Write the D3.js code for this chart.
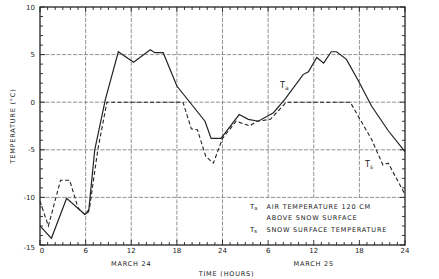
<!DOCTYPE html>
<html>
<head>
<meta charset="utf-8">
<script src="https://cdn.jsdelivr.net/npm/d3@7"></script>
<style>
  body { margin: 0; background: #fff; }
  svg text { font-family: "DejaVu Sans", sans-serif; fill: #222; }
</style>
</head>
<body>
<svg></svg>
<script>
    /* data: hours since 00h March 24, temperature in C */
    let taHours = [0, 1.5, 3.5, 5.9, 6.4, 7.2, 8.6, 10.3, 12.3, 14.5, 15.1, 16.2, 18.0, 21.7, 22.5, 23.8, 26.2, 27.4, 28.7, 30.7, 32.2, 34.6, 35.3, 36.4, 37.3, 38.3, 39.0, 40.3, 41.9, 43.6, 45.8, 48]
    let taTemps = [-13.0, -14.3, -10.1, -11.8, -11.5, -5.0, 0.3, 5.3, 4.2, 5.5, 5.2, 5.2, 1.7, -2.0, -3.8, -3.8, -1.3, -1.8, -2.0, -1.1, 0.3, 2.9, 3.2, 4.7, 4.1, 5.3, 5.3, 4.5, 2.2, -0.4, -3.0, -5.2]
    let tsHours = [0, 1.1, 2.7, 3.9, 5.0, 5.9, 6.5, 7.6, 8.8, 18.8, 19.9, 20.7, 21.8, 22.8, 24.0, 25.8, 27.6, 28.5, 30.3, 32.4, 40.8, 43.6, 45.1, 45.8, 48]
    let tsTemps = [-10.4, -13.0, -8.2, -8.2, -11.1, -11.8, -11.2, -5.0, 0, 0, -2.8, -2.9, -5.7, -6.4, -3.8, -2.0, -2.5, -2.0, -1.8, 0, 0, -3.9, -6.6, -6.4, -9.7]

    let yTicks = [10, 5, 0, -5, -10, -15]
    let xTicks = [0, 6, 12, 18, 24, 30, 36, 42, 48]
    let xTickLabels = ["0", "6", "12", "18", "24", "6", "12", "18", "24"]
    let dayLabels = ["MARCH 24", "MARCH 25"]
    let dayHours = [12, 36]
    let legendLines = ["AIR TEMPERATURE 120 CM", "ABOVE SNOW SURFACE", "SNOW SURFACE TEMPERATURE"]

    let width = 439
    let height = 279
    let padLeft = 40, padRight = 405, padTop = 7, padBottom = 245

    const svg = d3.select("svg").attr("width", width).attr("height", height)

    let xScale = d3.scaleLinear().domain([0, 48]).range([padLeft, padRight])
    let yScale = d3.scaleLinear().domain([-15, 10]).range([padBottom, padTop])

    // grid
    svg.append("g").selectAll("line").data(xTicks.slice(1, -1)).enter().append("line")
        .attr("x1", d => xScale(d)).attr("x2", d => xScale(d))
        .attr("y1", padTop).attr("y2", padBottom)
        .attr("stroke", "#777").attr("stroke-width", 0.8).attr("stroke-dasharray", "4,1.5")
    svg.append("g").selectAll("line").data(yTicks.slice(1, -1)).enter().append("line")
        .attr("x1", padLeft).attr("x2", padRight)
        .attr("y1", d => yScale(d)).attr("y2", d => yScale(d))
        .attr("stroke", "#777").attr("stroke-width", 0.8).attr("stroke-dasharray", "4,1.5")

    // legend box hides grid in the corner
    svg.append("rect").attr("x", xScale(26.5)).attr("y", yScale(-10.1))
        .attr("width", padRight - xScale(26.5) - 1).attr("height", padBottom - yScale(-10.1) - 1)
        .attr("fill", "#fff")

    // minor ticks, pointing inward
    let hourTicks = d3.range(0, 49)
    let degTicks = d3.range(-15, 11)
    let ticks = svg.append("g").attr("stroke", "#222").attr("stroke-width", 0.9)
    ticks.selectAll(".tb").data(hourTicks).enter().append("line")
        .attr("x1", d => xScale(d)).attr("x2", d => xScale(d))
        .attr("y1", padBottom).attr("y2", d => padBottom - (d % 6 == 0 ? 5 : 3))
    ticks.selectAll(".tt").data(hourTicks).enter().append("line")
        .attr("x1", d => xScale(d)).attr("x2", d => xScale(d))
        .attr("y1", padTop).attr("y2", d => padTop + (d % 6 == 0 ? 5 : 3))
    ticks.selectAll(".tl").data(degTicks).enter().append("line")
        .attr("y1", d => yScale(d)).attr("y2", d => yScale(d))
        .attr("x1", padLeft).attr("x2", d => padLeft + (d % 5 == 0 ? 5 : 3))
    ticks.selectAll(".tr").data(degTicks).enter().append("line")
        .attr("y1", d => yScale(d)).attr("y2", d => yScale(d))
        .attr("x1", padRight).attr("x2", d => padRight - (d % 5 == 0 ? 5 : 3))

    // frame
    svg.append("rect").attr("x", padLeft).attr("y", padTop)
        .attr("width", padRight - padLeft).attr("height", padBottom - padTop)
        .attr("fill", "none").attr("stroke", "#222").attr("stroke-width", 1.3)

    // curves
    let taData = taHours.map((h, i) => [h, taTemps[i]])
    let tsData = tsHours.map((h, i) => [h, tsTemps[i]])
    let line = d3.line().x(d => xScale(d[0])).y(d => yScale(d[1]))
    svg.append("path").datum(taData).attr("d", line)
        .attr("fill", "none").attr("stroke", "#222").attr("stroke-width", 1.2)
    svg.append("path").datum(tsData).attr("d", line)
        .attr("fill", "none").attr("stroke", "#222").attr("stroke-width", 1.1)
        .attr("stroke-dasharray", "4,2.5")

    // tick labels
    svg.append("g").selectAll("text").data(yTicks).enter().append("text")
        .attr("x", padLeft - 5).attr("y", d => yScale(d) + 2.5 + (d == -15 ? 2 : 0))
        .attr("text-anchor", "end").attr("font-size", 7).text(d => d)
    svg.append("g").selectAll("text").data(xTicks).enter().append("text")
        .attr("x", (d, i) => xScale(d) + (i == 0 ? 2 : 0)).attr("y", padBottom + 8)
        .attr("text-anchor", "middle").attr("font-size", 7).text((d, i) => xTickLabels[i])
    svg.append("g").selectAll("text").data(dayLabels).enter().append("text")
        .attr("x", (d, i) => xScale(dayHours[i])).attr("y", padBottom + 21)
        .attr("text-anchor", "middle").attr("font-size", 6.5).attr("letter-spacing", 0.8)
        .text(d => d)
    svg.append("text").attr("x", xScale(24) + 4).attr("y", height - 3)
        .attr("text-anchor", "middle").attr("font-size", 6.5).attr("letter-spacing", 0.8)
        .text("TIME (HOURS)")
    svg.append("text").attr("transform", "translate(15," + ((padTop + padBottom) / 2) + ") rotate(-90)")
        .attr("text-anchor", "middle").attr("font-size", 6.5).attr("letter-spacing", 0.8)
        .text("TEMPERATURE (°C)")

    // curve labels
    const subLabel = (g, x, y, sub, size) => {
        let t = g.append("text").attr("x", x).attr("y", y).attr("font-size", size)
        t.append("tspan").text("T")
        t.append("tspan").attr("font-size", size * 0.75).attr("dy", 1.5).text(sub)
    }
    subLabel(svg, 280, 88, "a", 8)
    subLabel(svg, 365, 167, "s", 8)

    // legend
    let lx = 250, ly = [208.5, 220, 231.5]
    subLabel(svg, lx, ly[0], "a", 7)
    subLabel(svg, lx, ly[2], "s", 7)
    svg.append("g").selectAll("text").data(legendLines).enter().append("text")
        .attr("x", 266.5).attr("y", (d, i) => ly[i])
        .attr("font-size", 6.5).attr("letter-spacing", 0.8).text(d => d)
</script>
</body>
</html>
